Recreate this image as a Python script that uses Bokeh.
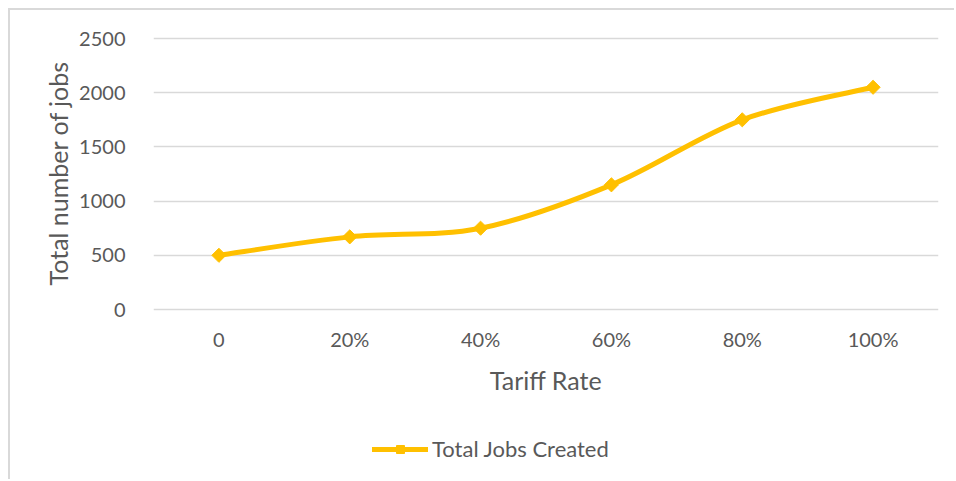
from bokeh.plotting import figure
from bokeh.models import Range1d, FixedTicker, Legend, LegendItem, Title
from bokeh.embed import file_html
from bokeh.resources import INLINE
import math

# ---- data ----
categories = ["0", "20%", "40%", "60%", "80%", "100%"]
total_jobs = [500, 670, 750, 1150, 1750, 2050]
y_ticks = [0, 500, 1000, 1500, 2000, 2500]

series_name = "Total Jobs Created"
x_title = "Tariff Rate"
y_title = "Total number of jobs"

GOLD = "#FFC000"
TEXT = "#595959"
GRID = "#D9D9D9"
FONT = "Lato"
TICK_FS = "20px"
TITLE_FS = "25px"
LEG_FS = "22px"

xs = [i + 0.5 for i in range(len(categories))]

# ---- layout (pixels) ----
W, H = 946, 471           # canvas (placed 10px from page left/top)
FRAME_TOP_PAD = 26         # frame top  -> page y 36
FRAME_BOT_PAD = 5          # frame bottom -> page y 476
PLOT_H = 271               # pixels from value 0 to value 2500
Y_MAX = y_ticks[-1]
unit = Y_MAX / PLOT_H      # data units per pixel
frame_h = H - FRAME_TOP_PAD - FRAME_BOT_PAD
y_end = Y_MAX + 2 * unit
y_start = y_end - frame_h * unit

# Smoothed line (Catmull-Rom style Bezier, like a spreadsheet "smoothed line")
n = len(xs)
bx0, by0, bx1, by1, bcx0, bcy0, bcx1, bcy1 = [], [], [], [], [], [], [], []
for i in range(n - 1):
    ip = i - 1 if i > 0 else 0
    inn = i + 2 if i + 2 < n else n - 1
    bx0.append(xs[i]); by0.append(total_jobs[i])
    bx1.append(xs[i + 1]); by1.append(total_jobs[i + 1])
    bcx0.append(xs[i] + (xs[i + 1] - xs[ip]) / 6)
    bcy0.append(total_jobs[i] + (total_jobs[i + 1] - total_jobs[ip]) / 6)
    bcx1.append(xs[i + 1] - (xs[inn] - xs[i]) / 6)
    bcy1.append(total_jobs[i + 1] - (total_jobs[inn] - total_jobs[i]) / 6)

p = figure(width=W, height=H, output_backend="svg", toolbar_location=None,
           x_range=Range1d(0, len(categories)), y_range=Range1d(y_start, y_end),
           min_border_left=143, min_border_right=18, min_border_top=FRAME_TOP_PAD,
           min_border_bottom=FRAME_BOT_PAD)
p.styles = {"margin-left": "8px", "margin-top": "8px",
            "border-left": "2px solid #D9D9D9", "border-top": "2px solid #D9D9D9"}
p.outline_line_color = None
p.background_fill_color = "white"
p.border_fill_color = "white"

# axes
p.yaxis.ticker = FixedTicker(ticks=y_ticks)
p.xaxis.ticker = FixedTicker(ticks=xs)
p.xaxis.major_label_overrides = {x: c for x, c in zip(xs, categories)}
p.xaxis.fixed_location = 0
for ax in (p.xaxis[0], p.yaxis[0]):
    ax.axis_line_color = None
    ax.major_tick_line_color = None
    ax.minor_tick_line_color = None
    ax.major_label_text_font = FONT
    ax.major_label_text_font_size = TICK_FS
    ax.major_label_text_color = TEXT
    ax.axis_label_text_font = FONT
    ax.axis_label_text_font_size = TITLE_FS
    ax.axis_label_text_color = TEXT
    ax.axis_label_text_font_style = "normal"
p.xaxis.axis_label = x_title
p.yaxis.major_label_standoff = 22
p.xaxis.major_label_standoff = 11
p.xaxis.axis_label_standoff = 11

# y axis title, placed beside the 0..2500 span
ytitle = Title(text=y_title, align="left", offset=191, standoff=8,
               text_font=FONT, text_font_size=TITLE_FS, text_color=TEXT,
               text_font_style="normal")
p.add_layout(ytitle, "left")

p.xgrid.grid_line_color = None
p.ygrid.ticker = FixedTicker(ticks=y_ticks)
p.ygrid.grid_line_color = GRID
p.ygrid.grid_line_width = 1.5

bez = p.bezier(x0=bx0, y0=by0, x1=bx1, y1=by1, cx0=bcx0, cy0=bcy0, cx1=bcx1, cy1=bcy1,
               line_color=GOLD, line_width=5, line_cap="round")
sc = p.scatter(xs, total_jobs, marker="square", angle=math.pi / 4, size=10,
               fill_color=GOLD, line_color=GOLD)

legend = Legend(items=[LegendItem(label=series_name, renderers=[bez, sc])],
                orientation="horizontal", location=(219, 14),
                border_line_color=None, background_fill_alpha=0,
                glyph_width=56, glyph_height=20, label_standoff=4,
                label_text_font=FONT, label_text_font_size=LEG_FS,
                label_text_color=TEXT, margin=0, padding=0)
p.add_layout(legend, "center")

open("out.html", "w").write(file_html(p, INLINE))
